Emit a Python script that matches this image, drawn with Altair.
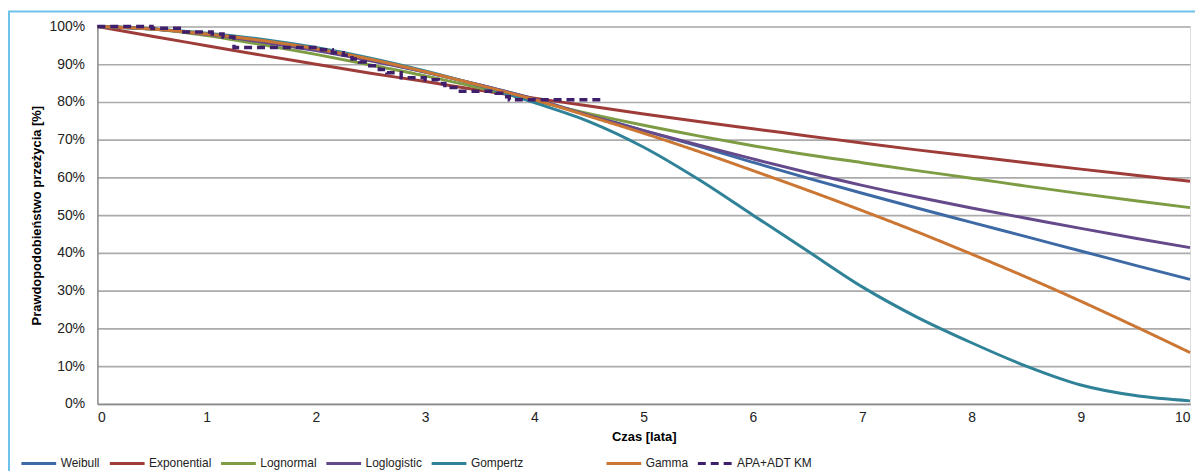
import altair as alt
import pandas as pd

# ---- data ----
t = [0, 0.5, 1, 1.5, 2, 2.5, 3, 3.5, 4, 4.5, 5, 5.5, 6, 6.5, 7, 7.5, 8, 8.5, 9, 9.5, 10]
weibull     = [100, 99.3, 97.9, 96.0, 93.8, 91.0, 87.9, 84.5, 80.8, 76.5, 72.4, 68.3, 64.0, 59.8, 55.8, 51.9, 48.1, 44.3, 40.5, 36.7, 33.0]
exponential = [100, 97.4, 94.9, 92.4, 90.0, 87.6, 85.4, 83.1, 81.0, 78.9, 76.8, 74.8, 72.9, 71.0, 69.1, 67.3, 65.6, 63.9, 62.2, 60.6, 59.0]
lognormal   = [100, 99.4, 97.6, 95.2, 92.6, 89.8, 86.9, 83.7, 80.3, 76.9, 73.8, 71.0, 68.4, 66.0, 63.9, 61.8, 59.8, 57.7, 55.7, 53.8, 52.0]
loglogistic = [100, 99.4, 97.9, 95.9, 93.6, 90.9, 87.9, 84.5, 80.7, 76.4, 72.4, 68.6, 64.9, 61.3, 57.9, 54.8, 51.9, 49.2, 46.5, 43.9, 41.4]
gompertz    = [100, 99.3, 98.2, 96.6, 94.4, 91.6, 88.2, 84.3, 79.8, 74.8, 68.0, 59.5, 50.0, 40.5, 31.0, 23.0, 16.2, 10.0, 5.0, 2.2, 0.8]
gamma       = [100, 99.3, 98.0, 96.3, 94.1, 91.3, 88.0, 84.4, 80.6, 76.2, 71.7, 66.9, 61.8, 56.6, 51.2, 45.6, 39.7, 33.6, 27.2, 20.5, 13.6]

km_t = [0, 0.5, 0.75, 1.05, 1.15, 1.25, 2.05, 2.15, 2.25, 2.33, 2.4, 2.47, 2.58, 2.65, 2.78, 3.0, 3.12, 3.18, 3.28, 3.65, 3.72, 3.77, 4.61]
km_s = [100, 99.5, 98.5, 98.0, 97.2, 94.4, 93.8, 93.0, 92.4, 91.4, 90.6, 89.6, 88.6, 87.7, 86.4, 85.9, 84.9, 83.8, 82.8, 82.3, 81.4, 80.6, 80.6]

y_ticks = [0, 10, 20, 30, 40, 50, 60, 70, 80, 90, 100]
x_ticks = [0, 1, 2, 3, 4, 5, 6, 7, 8, 9, 10]

names_a = ["Weibull", "Exponential", "Lognormal", "Loglogistic", "Gompertz"]
vals_a = [weibull, exponential, lognormal, loglogistic, gompertz]
colors_a = ["#3D6AA5", "#9E3C39", "#7E9C43", "#654A8B", "#2F8297"]
km_name = "APA+ADT KM"
names_b = ["Gamma", km_name]
colors_b = ["#CC7634", "#3F1F6B"]
dashes_b = [[1, 0], [8, 5]]

rows = []
for name, vals in zip(names_a, vals_a):
    for ti, v in zip(t, vals):
        rows.append({"t": ti, "s": v, "series": name})
df_a = pd.DataFrame(rows)
df_gamma = pd.DataFrame({"t": t, "s": gamma, "series": "Gamma"})
df_km = pd.DataFrame({"t": km_t, "s": km_s, "series": km_name})

FONT = "Liberation Sans"

def make_legend(lx):
    return alt.Legend(
        orient="none", legendX=lx, legendY=421, direction="horizontal", title=None,
        symbolType="stroke", symbolSize=1225, symbolStrokeWidth=3, labelFontSize=12,
        labelFont=FONT, labelColor="#222222", labelOffset=3, columnPadding=3,
    )

x_enc = alt.X(
    "t:Q", scale=alt.Scale(domain=[0, 10], nice=False),
    axis=alt.Axis(values=x_ticks, format="d", grid=False, ticks=False, tickSize=0,
                  labelPadding=7, labelFontSize=14, labelFont=FONT, labelColor="#222222",
                  labelOverlap=False,
                  domainColor="#8C8C8C", domainWidth=1.5,
                  title="Czas [lata]", titleFont=FONT, titleFontSize=13, titleFontWeight="bold",
                  titleColor="#000000", titleX=550, titleY=33, titleBaseline="middle"),
)
y_enc = alt.Y(
    "s:Q", scale=alt.Scale(domain=[0, 100], nice=False),
    axis=alt.Axis(values=y_ticks, labelExpr="datum.value + '%'", grid=True,
                  gridColor="#ABABAB", gridWidth=1.6, ticks=False, tickSize=0,
                  labelPadding=13, labelFontSize=14, labelFont=FONT, labelColor="#222222",
                  labelOverlap=False,
                  domainColor="#8C8C8C", domainWidth=1.5,
                  title="Prawdopodobieństwo przeżycia [%]", titleFont=FONT, titleFontSize=13,
                  titleFontWeight="bold", titleColor="#000000", titleX=-61, titleY=190,
                  titleAngle=270, titleAlign="center", titleBaseline="middle"),
)

leg_a = make_legend(-78)
leg_b = make_legend(511)

color_a = alt.Color("series:N", scale=alt.Scale(domain=names_a, range=colors_a), legend=leg_a)
color_b = alt.Color("series:N", scale=alt.Scale(domain=names_b, range=colors_b), legend=leg_b)
dash_b = alt.StrokeDash("series:N", scale=alt.Scale(domain=names_b, range=dashes_b), legend=leg_b)

curves_a = alt.Chart(df_a).mark_line(strokeWidth=3, interpolate="monotone").encode(
    x=x_enc, y=y_enc, color=color_a,
)
gamma_line = alt.Chart(df_gamma).mark_line(strokeWidth=3, interpolate="monotone").encode(
    x=x_enc, y=y_enc, color=color_b, strokeDash=dash_b,
)
km_line = alt.Chart(df_km).mark_line(strokeWidth=3.5, interpolate="step-after").encode(
    x=x_enc, y=y_enc, color=color_b, strokeDash=dash_b,
)
group_b = alt.layer(gamma_line, km_line)

# decorative frame lines of the original screenshot
frame_top = alt.Chart(pd.DataFrame({"a": [0]})).mark_rule(color="#6EC1EA", strokeWidth=2).encode(
    x=alt.value(-90), x2=alt.value(1105), y=alt.value(-15)
)
frame_left = alt.Chart(pd.DataFrame({"a": [0]})).mark_rule(color="#6EC1EA", strokeWidth=2).encode(
    x=alt.value(-89), y=alt.value(-15), y2=alt.value(470)
)

chart = alt.layer(curves_a, group_b, frame_top, frame_left).resolve_scale(
    color="independent", strokeDash="independent"
).properties(
    width=1100, height=380,
    autosize=alt.AutoSizeParams(type="none"),
    padding={"left": 90, "top": 17, "right": 5, "bottom": 66},
).configure_view(stroke=None).configure(background="white")

chart.save("out.html", embed_options={"renderer": "svg", "actions": False})
